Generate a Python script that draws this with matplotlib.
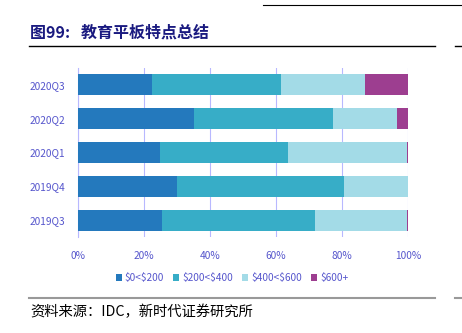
import matplotlib
matplotlib.use("Agg")
import matplotlib.pyplot as plt
from matplotlib.lines import Line2D

categories = ["2019Q3", "2019Q4", "2020Q1", "2020Q2", "2020Q3"]
series_names = ["$0<$200", "$200<$400", "$400<$600", "$600+"]
s1 = [25.5, 30.0, 24.9, 35.2, 22.3]
s2 = [46.2, 50.7, 38.6, 42.0, 39.1]
s3 = [28.0, 19.2, 36.1, 19.6, 25.6]
s4 = [0.3, 0.1, 0.4, 3.2, 13.0]
series = [s1, s2, s3, s4]
colors = ["#2479BD", "#37ADC7", "#A3DBE7", "#9D3E90"]
xticks = [0, 20, 40, 60, 80, 100]
xticklabels = ["0%", "20%", "40%", "60%", "80%", "100%"]

plt.rcParams['font.family'] = ['Noto Sans CJK SC', 'DejaVu Sans']
plt.rcParams['text.parse_math'] = False

fig = plt.figure(figsize=(4.62, 3.33), dpi=100)
ax = fig.add_axes([78/462, 1-237/333, 330/462, 169/333])

left = [0]*len(categories)
ypos = list(range(len(categories)))
for vals, c, name in zip(series, colors, series_names):
    ax.barh(ypos, vals, left=left, height=0.62, color=c, label=name, zorder=3)
    left = [l+v for l, v in zip(left, vals)]

ax.set_xlim(0, 100)
ax.set_ylim(-0.5, 4.5)
ax.set_xticks(xticks)
ax.set_xticklabels(xticklabels)
ax.set_yticks(ypos)
ax.set_yticklabels(categories)
ax.grid(axis='x', color='#B8B8FF', linewidth=0.8, zorder=0)
for s in ['top', 'right', 'bottom']:
    ax.spines[s].set_visible(False)
ax.spines['left'].set_color('#B8B8FF')
ax.spines['left'].set_linewidth(0.8)
ax.tick_params(axis='both', length=0, colors='#5555CC', labelsize=7.3)
ax.tick_params(axis='x', pad=10)
ax.tick_params(axis='y', pad=9)

leg = fig.legend(loc='center', bbox_to_anchor=(232/462, 1-278/333), ncol=4,
                 frameon=False, fontsize=7.3, handlelength=0.6, handleheight=0.6,
                 handletextpad=0.3, columnspacing=0.9)
for t in leg.get_texts():
    t.set_color('#5555CC')

# title and decorations
fig.text(30/462, 1-33/333, "图99:   教育平板特点总结", fontsize=11.5, fontweight='bold',
         color='#1A1A80', va='center', ha='left')
fig.add_artist(Line2D([29/462, 435/462], [1-46/333, 1-46/333], color='black', linewidth=1.0))
fig.add_artist(Line2D([455/462, 462/462], [1-46/333, 1-46/333], color='black', linewidth=1.0))
fig.add_artist(Line2D([263/462, 462/462], [1-5/333, 1-5/333], color='black', linewidth=0.8))
fig.add_artist(Line2D([29/462, 435/462], [1-298/333, 1-298/333], color='#999999', linewidth=1.5))
fig.add_artist(Line2D([455/462, 462/462], [1-298/333, 1-298/333], color='#999999', linewidth=1.5))
fig.text(30/462, 1-312/333, "资料来源：IDC，新时代证券研究所", fontsize=10.3,
         color='black', va='center', ha='left')

fig.savefig("out.png", dpi=100)
